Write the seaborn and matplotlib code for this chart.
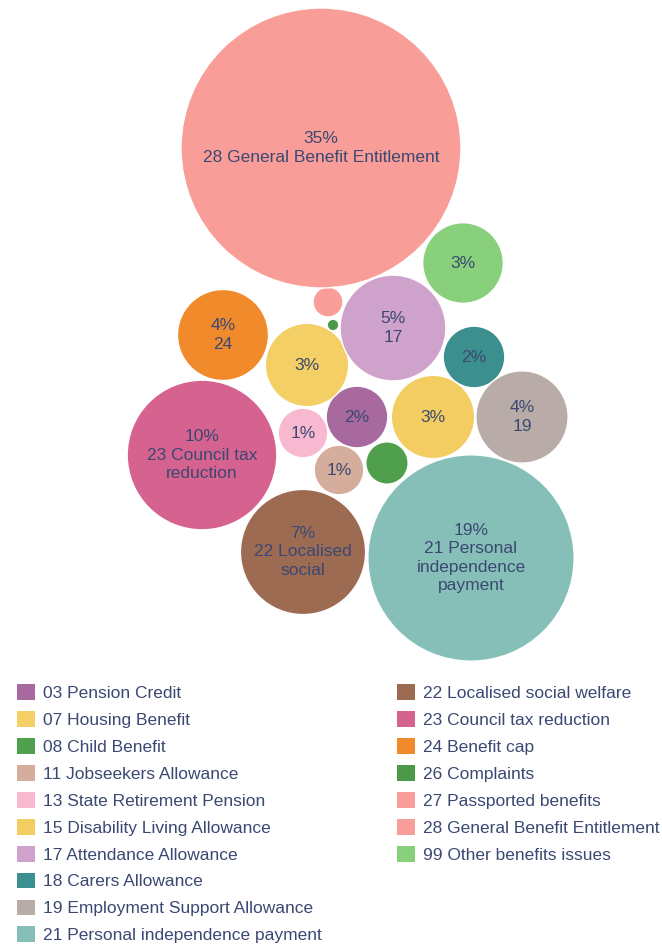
import numpy as np
import pandas as pd
import seaborn as sns
import matplotlib.pyplot as plt
import matplotlib.patches as mpatches

# benefit categories, share of enquiries (%) and bubble colours
categories = ["03 Pension Credit", "07 Housing Benefit", "08 Child Benefit",
              "11 Jobseekers Allowance", "13 State Retirement Pension",
              "15 Disability Living Allowance", "17 Attendance Allowance",
              "18 Carers Allowance", "19 Employment Support Allowance",
              "21 Personal independence payment", "22 Localised social welfare",
              "23 Council tax reduction", "24 Benefit cap", "26 Complaints",
              "27 Passported benefits", "28 General Benefit Entitlement",
              "99 Other benefits issues"]
share = [1.7, 3.1, 0.8, 1.1, 1.1, 3.1, 5.0, 1.7, 3.8, 19.0, 7.0, 10.0, 3.7, 0.06, 0.4, 35.0, 2.9]
# text shown under the percentage (None = bubble left unlabelled)
bubble_names = ["", "", None, "", "", "", "17", "", "19",
                "21 Personal\nindependence\npayment", "22 Localised\nsocial",
                "23 Council tax\nreduction", "24", None, None,
                "28 General Benefit Entitlement", ""]
colours = ["#a8699f", "#f3cf66", "#4f9f4c", "#d5ad9c", "#f8b9d0", "#f3cd62",
           "#cfa2cc", "#3c8f8f", "#b9aca8", "#86bfb8", "#9c6b52", "#d5628f",
           "#f08a2a", "#4a9a4a", "#f99d98", "#f99d98", "#88d07b"]

# packed layout of the bubble centres (chart units, y downward)
bubble_x = [357, 307, 387, 339, 303, 433, 393, 474, 522, 471, 303, 202, 223, 333, 328, 321, 463]
bubble_y = [417, 365, 463, 470, 433, 417, 328, 357, 417, 558, 552, 455, 335, 325, 302, 148, 263]

df = pd.DataFrame({"category": categories, "share": share, "name": bubble_names,
                   "colour": colours, "x": bubble_x, "y": bubble_y})
scale = 140 / np.sqrt(35.0)
df["radius"] = np.sqrt(df["share"]) * scale

sns.set_theme(style="white")
plt.rcParams["font.family"] = ["Liberation Sans", "DejaVu Sans"]
text_col = "#3b4872"

fig = plt.figure(figsize=(6.62, 9.49), dpi=100)
ax = fig.add_axes([0, 0, 1, 1])
ax.set_xlim(0, 662)
ax.set_ylim(949, 0)
ax.set_aspect("equal")
ax.axis("off")

for _, row in df.iterrows():
    ax.add_patch(mpatches.Circle((row["x"], row["y"]), row["radius"],
                                 facecolor=row["colour"], edgecolor="white", lw=1))
    if row["name"] is None:
        continue
    label = f"{round(row['share'])}%"
    if row["name"]:
        label += "\n" + row["name"]
    ax.text(row["x"], row["y"], label, ha="center", va="center",
            fontsize=12.5, color=text_col, linespacing=1.3)

handles = [mpatches.Patch(facecolor=c, edgecolor="none", label=l)
           for c, l in zip(colours, categories)]

legend_kw = dict(frameon=False, fontsize=12.5, handlelength=1.03, handleheight=1.03,
                 handletextpad=0.45, labelspacing=0.58, borderpad=0, borderaxespad=0,
                 loc="upper left", labelcolor=text_col)
fig.legend(handles=handles[:10], bbox_to_anchor=(17 / 662, 1 - 684 / 949), **legend_kw)
fig.legend(handles=handles[10:], bbox_to_anchor=(397 / 662, 1 - 684 / 949), **legend_kw)

fig.savefig("out.png", dpi=100, facecolor="white")
